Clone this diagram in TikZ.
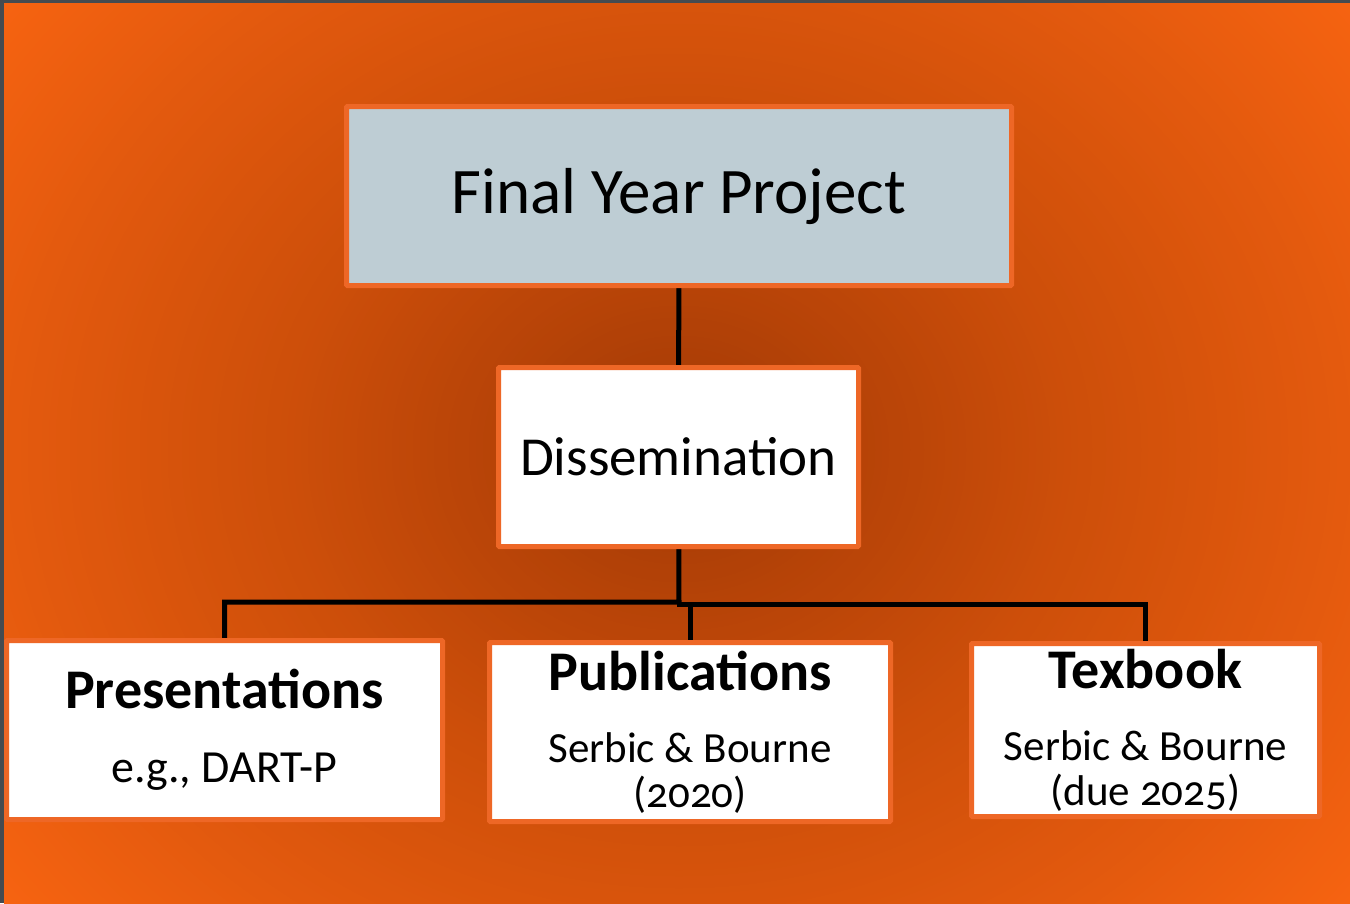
\documentclass[tikz,border=0pt]{standalone}
\usepackage{fontspec}
\setmainfont{Carlito}[Numbers=OldStyle]
\usepackage{tikz}
\usetikzlibrary{positioning,backgrounds}
\definecolor{bgedge}{HTML}{F86411}
\definecolor{bgside}{HTML}{E45A0E}
\definecolor{bgmid}{HTML}{CC4E0A}
\definecolor{bgcore}{HTML}{A23905}
\definecolor{boxline}{HTML}{EE6726}
\definecolor{topfill}{HTML}{BECDD4}
\definecolor{frameline}{HTML}{454B50}

\begin{document}
\begin{tikzpicture}[x=1pt,y=-1pt]
\tikzstyle{box} = [draw=boxline, line width=5pt, rounded corners=1pt, fill=white, inner sep=0pt, align=center];
\tikzstyle{topbox} = [box, fill=topfill, minimum width=665, minimum height=179, font=\fontsize{65}{78}\selectfont];
\tikzstyle{midbox} = [box, minimum width=360, minimum height=179, font=\fontsize{55}{66}\selectfont];
\tikzstyle{leaf} = [box, minimum height=179, font=\fontsize{43}{45}\selectfont];
\tikzstyle{conn} = [line width=5pt];
\newcommand{\headline}[1]{{\fontsize{56}{60}\selectfont\bfseries #1}}
\useasboundingbox (0,0) rectangle (1350,903);

\node[topbox] (fyp) at (679,196) {Final Year Project};
\node[midbox] (dis) at (678.5,457) {Dissemination};
\node[leaf, minimum width=436] (pres) at (224.5,730) {\headline{Presentations}\\[29pt]{\fontsize{46}{45}\selectfont e.g., DART-P}};
\node[leaf, minimum width=401] (pubs) at (690,732) {\headline{Publications}\\[27pt]Serbic \& Bourne\\(2020)};
\node[leaf, minimum width=348, minimum height=173] (tex) at (1145.5,730) {\headline{Texbook}\\[27pt]Serbic \& Bourne\\(due 2025)};

\coordinate (jl) at (679,602);
\coordinate (jr) at (679,604);

\begin{scope}[on background layer]
\fill[frameline] (0,0) rectangle (1350,903);
% radial glow, drawn as rings from the outside in
\begin{scope}
\clip (4,3) rectangle (1350,903);
\fill[bgedge] (4,3) rectangle (1350,903);
\foreach \k in {125,124,...,96}{
  \pgfmathtruncatemacro{\p}{(\k-95)/30*100}
  \fill[bgedge!\p!bgside] (679,450) ellipse [x radius=7*\k, y radius=6*\k];
}
\foreach \k in {95,94,...,56}{
  \pgfmathtruncatemacro{\p}{(\k-55)/40*100}
  \fill[bgside!\p!bgmid] (679,450) ellipse [x radius=7*\k, y radius=6*\k];
}
\foreach \k in {55,54,...,1}{
  \pgfmathtruncatemacro{\p}{\k/55*100}
  \fill[bgmid!\p!bgcore] (679,450) ellipse [x radius=7*\k, y radius=6*\k];
}
\end{scope}
\draw[conn] (fyp) -- (dis);
\draw[conn] (dis) -- (jl) -| (pres);
\draw[conn] (jl) -- (jr) -| (tex);
\draw[conn] (pubs) |- (jr);
\end{scope}
\end{tikzpicture}
\end{document}
